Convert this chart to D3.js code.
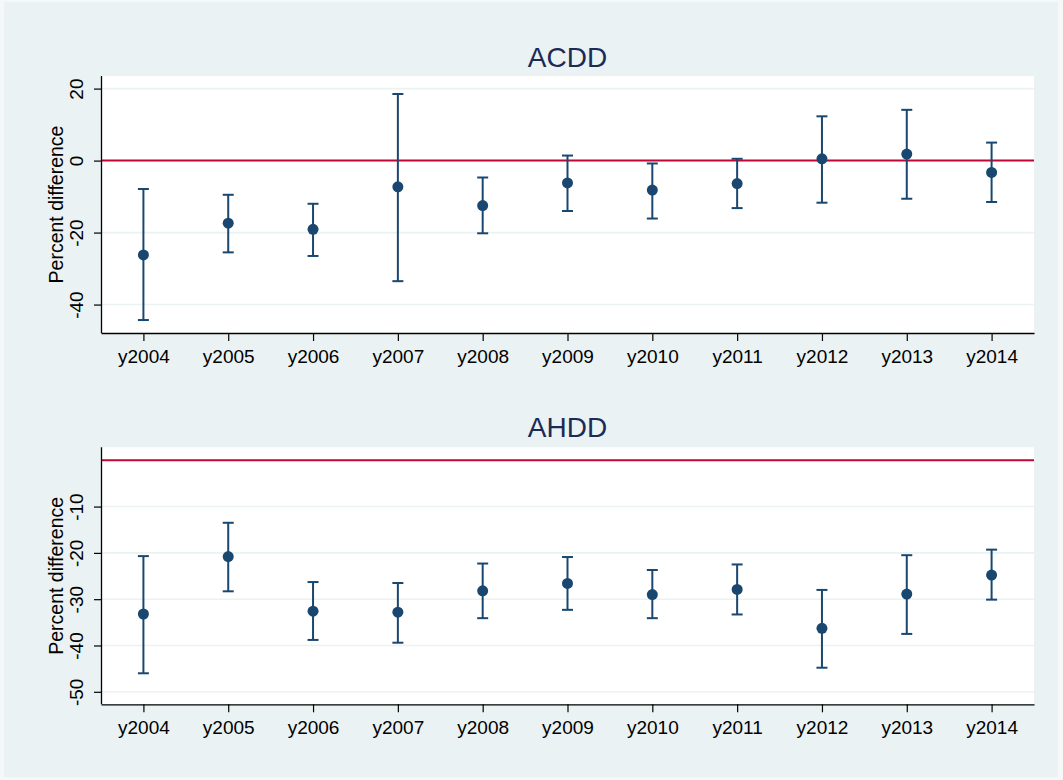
<!DOCTYPE html>
<html>
<head>
<meta charset="utf-8">
<script src="https://cdn.jsdelivr.net/npm/d3@7"></script>
<style>
  body { margin: 0; background: #f4f8f9; }
  text { font-family: "Liberation Sans", Arial, sans-serif; }
</style>
</head>
<body>
<div id="chart"></div>
<script>
var years = ["y2004", "y2005", "y2006", "y2007", "y2008", "y2009", "y2010", "y2011", "y2012", "y2013", "y2014"];

// ACDD point estimates and 95% bounds
var acddEst = [-26.2, -17.4, -19.1, -7.3, -12.5, -6.2, -8.2, -6.4, 0.5, 1.8, -3.3];
var acddLo  = [-44.3, -25.5, -26.5, -33.5, -20.2, -14.0, -16.1, -13.2, -11.7, -10.6, -11.5];
var acddHi  = [-7.9, -9.5, -12.0, 18.5, -4.7, 1.4, -0.8, 0.5, 12.3, 14.1, 5.0];
var acddTicks = [20, 0, -20, -40];

// AHDD
var ahddEst = [-33.2, -20.8, -32.6, -32.8, -28.2, -26.6, -29.0, -27.9, -36.3, -28.9, -24.8];
var ahddLo  = [-46.0, -28.3, -38.8, -39.4, -34.1, -32.3, -34.1, -33.3, -44.8, -37.5, -30.1];
var ahddHi  = [-20.7, -13.5, -26.3, -26.5, -22.3, -20.9, -23.7, -22.5, -28.0, -20.5, -19.3];
var ahddTicks = [-10, -20, -30, -40, -50];

var width = 1063, height = 780;
var navy = "#1a476f", red = "#c10534", grid = "#eaf2f3";

var svg = d3.select("#chart")
    .append("svg")
    .attr("width", width)
    .attr("height", height);

// graph region
svg.append("rect")
    .attr("x", 4).attr("y", 2)
    .attr("width", width - 9).attr("height", height - 5)
    .attr("fill", "#eaf2f3");

var left = 101, right = 1034;

function panel(title, est, lo, hi, ticks, top, bottom, domain, titleY) {
    var x = d3.scalePoint().domain(years).range([left, right]).padding(0.5);
    var y = d3.scaleLinear().domain(domain).range([bottom, top]);

    var g = svg.append("g");

    g.append("rect")
        .attr("x", left).attr("y", top)
        .attr("width", right - left).attr("height", bottom - top)
        .attr("fill", "#fff");

    // gridlines
    g.selectAll(".grid")
        .data(ticks)
        .enter().append("line")
        .attr("x1", left).attr("x2", right)
        .attr("y1", function (d) { return y(d); })
        .attr("y2", function (d) { return y(d); })
        .attr("stroke", grid)
        .attr("stroke-width", 1.6);

    // zero reference line
    g.append("line")
        .attr("x1", left).attr("x2", right)
        .attr("y1", y(0)).attr("y2", y(0))
        .attr("stroke", red)
        .attr("stroke-width", 2);

    var yAxis = g.append("g")
        .attr("transform", "translate(" + left + ",0)")
        .call(d3.axisLeft(y).tickValues(ticks).tickFormat(String).tickSize(7).tickSizeOuter(0));
    yAxis.select(".domain").attr("stroke", "#000").attr("stroke-width", 1.3)
        .attr("d", "M0.5," + top + "V" + bottom);
    yAxis.selectAll(".tick line").attr("stroke", "#000").attr("stroke-width", 1.2);
    yAxis.selectAll(".tick text")
        .attr("font-size", "19px")
        .attr("fill", "#000")
        .attr("x", null).attr("dy", null)
        .attr("text-anchor", "middle")
        .attr("transform", "translate(-18,0) rotate(-90)");

    var xAxis = g.append("g")
        .attr("transform", "translate(0," + bottom + ")")
        .call(d3.axisBottom(x).tickSize(8).tickSizeOuter(0));
    xAxis.select(".domain").attr("stroke", "#000").attr("stroke-width", 1.3);
    xAxis.selectAll(".tick line").attr("stroke", "#000").attr("stroke-width", 1.2);
    xAxis.selectAll(".tick text")
        .attr("font-size", "19px")
        .attr("fill", "#000")
        .attr("y", 30).attr("dy", null);

    g.append("text")
        .attr("transform", "translate(63," + ((top + bottom) / 2) + ") rotate(-90)")
        .attr("text-anchor", "middle")
        .attr("font-size", "19.5px")
        .attr("fill", "#000")
        .text("Percent difference");

    g.append("text")
        .attr("x", (left + right) / 2)
        .attr("y", titleY)
        .attr("text-anchor", "middle")
        .attr("font-size", "28px")
        .attr("fill", "#1c2b55")
        .text(title);

    // error bars
    var bars = g.selectAll(".ci")
        .data(years)
        .enter().append("g")
        .attr("stroke", navy)
        .attr("stroke-width", 2);
    bars.append("line")
        .attr("x1", function (d) { return x(d); })
        .attr("x2", function (d) { return x(d); })
        .attr("y1", function (d, i) { return y(lo[i]); })
        .attr("y2", function (d, i) { return y(hi[i]); });
    bars.append("line")
        .attr("x1", function (d) { return x(d) - 5.5; })
        .attr("x2", function (d) { return x(d) + 5.5; })
        .attr("y1", function (d, i) { return y(lo[i]); })
        .attr("y2", function (d, i) { return y(lo[i]); });
    bars.append("line")
        .attr("x1", function (d) { return x(d) - 5.5; })
        .attr("x2", function (d) { return x(d) + 5.5; })
        .attr("y1", function (d, i) { return y(hi[i]); })
        .attr("y2", function (d, i) { return y(hi[i]); });

    g.selectAll(".pt")
        .data(years)
        .enter().append("circle")
        .attr("cx", function (d) { return x(d); })
        .attr("cy", function (d, i) { return y(est[i]); })
        .attr("r", 5.5)
        .attr("fill", navy);
}

panel("ACDD", acddEst, acddLo, acddHi, acddTicks, 76, 333, [-47.9, 23.5], 66.7);
panel("AHDD", ahddEst, ahddLo, ahddHi, ahddTicks, 447.3, 704.3, [-52.7, 2.8], 437.3);
</script>
</body>
</html>
